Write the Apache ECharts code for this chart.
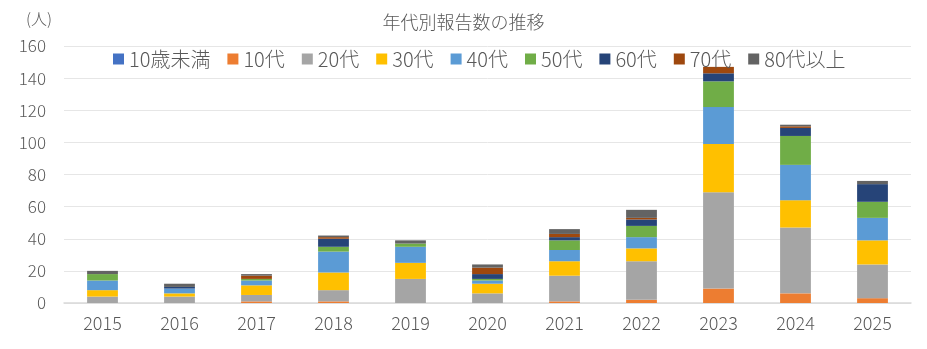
<!DOCTYPE html>
<html><head><meta charset="utf-8">
<script src="https://cdn.jsdelivr.net/npm/echarts@6/dist/echarts.min.js"></script>
<style>html,body{margin:0;padding:0;background:#fff}#c{width:927px;height:349px}</style>
</head><body><div id="c"></div>
<script>
const categories = ['2015','2016','2017','2018','2019','2020','2021','2022','2023','2024','2025'];
const seriesNames = ['10歳未満','10代','20代','30代','40代','50代','60代','70代','80代以上'];
const under10 = [0,0,0,0,0,0,0,0,0,0,0];
const teens   = [0,0,1,1,0,0,1,2,9,6,3];
const twenties= [4,4,4,7,15,6,16,24,60,41,21];
const thirties= [4,2,6,11,10,6,9,8,30,17,15];
const forties = [6,3,3,13,10,2,7,7,23,22,14];
const fifties = [4,0,1,3,2,1,6,7,16,18,10];
const sixties = [0,1,0,5,0,3,2,4,5,5,11];
const seventies=[0,0,2,1,0,4,2,1,4,1,0];
const over80  = [2,2,1,1,2,2,3,5,0,1,2];
const yTicks = [0,20,40,60,80,100,120,140,160];
const colors = ['#4472C4','#ED7D31','#A5A5A5','#FFC000','#5B9BD5','#70AD47','#264478','#9E480E','#636363'];
const values = [under10,teens,twenties,thirties,forties,fifties,sixties,seventies,over80];
const FONT = '"Noto Sans CJK JP","Noto Sans",sans-serif';
const chart = echarts.init(document.getElementById('c'));
chart.setOption({
  animation:false,
  color: colors,
  title:{text:'年代別報告数の推移',left:'center',top:8,textStyle:{fontFamily:FONT,fontSize:18,fontWeight:300,color:'#595959'}},
  legend:{top:44,left:108,itemWidth:11,itemHeight:11,itemGap:17,icon:'rect',
    textStyle:{fontFamily:FONT,fontSize:20,fontWeight:300,color:'#595959'}},
  grid:{left:64,right:16,top:46,bottom:46,containLabel:false},
  xAxis:{type:'category',data:categories,
    axisLine:{lineStyle:{color:'#d9d9d9',width:1.5}},axisTick:{show:false},
    axisLabel:{fontFamily:FONT,fontSize:18,fontWeight:300,color:'#595959',margin:11}},
  yAxis:{type:'value',min:0,max:160,interval:20,name:'(人)',nameLocation:'end',
    nameTextStyle:{fontFamily:FONT,fontSize:16,fontWeight:300,color:'#595959',align:'right',padding:[0,12,4,0]},
    axisLine:{show:false},axisTick:{show:false},
    splitLine:{lineStyle:{color:'#e6e6e6',width:1}},
    axisLabel:{fontFamily:FONT,fontSize:17,fontWeight:300,color:'#595959',margin:18,
      formatter:v=>yTicks.includes(v)?String(v):''}},
  series: seriesNames.map((n,i)=>({name:n,type:'bar',stack:'all',barWidth:'40%',data:values[i],
    itemStyle:{color:colors[i]}}))
});
</script></body></html>
